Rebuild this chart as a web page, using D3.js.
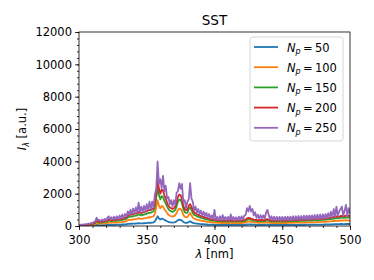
<!DOCTYPE html>
<html>
<head>
<meta charset="utf-8">
<script src="https://cdn.jsdelivr.net/npm/d3@7"></script>
<style>
  body { margin: 0; background: #fff; }
  text { font-family: "DejaVu Sans", sans-serif; fill: #000; }
</style>
</head>
<body>
<script>
// Chart size (same as the reference picture)
const w = 374;
const h = 280;

// Plot area edges
const margin = { left: 79, right: 24, top: 32, bottom: 54 };

// Wavelength grid, 1 nm steps from 300 to 500
const wavelengths = d3.range(300, 501, 1);

// Tick labels
const xTicks = [300, 350, 400, 450, 500];
const yTicks = [0, 2000, 4000, 6000, 8000, 10000, 12000];

// Series names (number of particles)
const particleCounts = [50, 100, 150, 200, 250];

// Intensities, one value per nm
const np50 = [
  5, 8, 9, 11, 12, 14, 15, 18, 20, 24,
  26, 34, 46, 76, 56, 52, 50, 54, 56, 60,
  62, 68, 84, 76, 72, 74, 78, 76, 80, 82,
  84, 88, 92, 94, 98, 108, 128, 136, 144, 140,
  148, 152, 156, 160, 176, 164, 160, 164, 170, 176,
  184, 192, 200, 196, 210, 220, 290, 430, 600, 470,
  400, 450, 440, 380, 340, 290, 250, 230, 220, 210,
  220, 240, 290, 360, 390, 380, 330, 250, 210, 196,
  200, 250, 290, 240, 190, 166, 156, 144, 138, 128,
  122, 116, 112, 104, 100, 94, 90, 86, 80, 76,
  84, 74, 72, 70, 72, 68, 70, 66, 66, 64,
  66, 66, 76, 66, 64, 64, 64, 66, 66, 68,
  68, 70, 72, 80, 94, 100, 98, 92, 86, 80,
  76, 74, 72, 72, 76, 74, 72, 72, 80, 86,
  78, 70, 68, 68, 66, 66, 66, 66, 66, 66,
  68, 68, 68, 68, 70, 70, 70, 72, 72, 72,
  74, 74, 74, 76, 76, 76, 78, 78, 80, 80,
  80, 82, 82, 84, 84, 86, 86, 88, 88, 90,
  90, 92, 94, 96, 98, 102, 104, 106, 114, 112,
  120, 116, 114, 124, 124, 120, 122, 130, 124, 128,
  124
];

const np100 = [
  15, 20, 25, 30, 33, 38, 42, 50, 55, 65,
  72, 95, 125, 210, 155, 145, 140, 150, 155, 165,
  170, 190, 230, 210, 200, 205, 215, 210, 220, 225,
  230, 240, 255, 260, 270, 300, 350, 375, 395, 385,
  410, 420, 430, 440, 485, 450, 440, 450, 470, 485,
  505, 530, 550, 540, 580, 600, 770, 1150, 1600, 1260,
  1100, 1240, 1200, 1050, 935, 800, 690, 635, 605, 580,
  605, 660, 800, 990, 1070, 1050, 910, 690, 580, 540,
  550, 690, 800, 660, 520, 455, 430, 395, 380, 350,
  335, 320, 310, 285, 275, 260, 250, 235, 220, 210,
  230, 205, 200, 190, 200, 185, 195, 180, 180, 175,
  180, 180, 210, 180, 175, 175, 175, 180, 180, 185,
  185, 190, 200, 220, 260, 275, 270, 255, 235, 220,
  210, 205, 200, 200, 210, 205, 200, 200, 220, 235,
  215, 190, 185, 185, 180, 180, 180, 180, 180, 180,
  185, 185, 185, 185, 190, 190, 190, 200, 200, 200,
  205, 205, 205, 210, 210, 210, 215, 215, 220, 220,
  220, 225, 225, 230, 230, 235, 235, 240, 240, 250,
  250, 255, 260, 265, 270, 280, 285, 290, 315, 310,
  330, 320, 315, 340, 340, 330, 335, 360, 340, 350,
  340
];

const np150 = [
  25, 30, 38, 45, 50, 58, 62, 75, 85, 100,
  110, 140, 190, 320, 235, 215, 210, 225, 235, 250,
  260, 285, 350, 315, 300, 310, 325, 315, 335, 340,
  350, 365, 380, 390, 410, 450, 530, 565, 600, 580,
  615, 630, 650, 665, 730, 680, 665, 680, 705, 730,
  765, 800, 830, 815, 870, 910, 1160, 1750, 2400, 1900,
  1650, 1850, 1800, 1550, 1400, 1200, 1040, 955, 910, 870,
  910, 1000, 1200, 1500, 1650, 1620, 1400, 1050, 870, 810,
  830, 1050, 1150, 1000, 790, 690, 650, 600, 570, 530,
  505, 480, 465, 430, 415, 390, 375, 355, 330, 315,
  350, 305, 300, 290, 300, 280, 290, 275, 275, 265,
  275, 275, 315, 275, 265, 265, 265, 275, 275, 280,
  280, 290, 300, 330, 390, 415, 405, 380, 355, 330,
  315, 305, 300, 300, 315, 305, 300, 300, 330, 355,
  325, 290, 280, 280, 275, 275, 275, 275, 275, 275,
  280, 280, 280, 280, 290, 290, 290, 300, 300, 300,
  305, 305, 305, 315, 315, 315, 325, 325, 330, 330,
  330, 340, 340, 350, 350, 355, 355, 365, 365, 375,
  375, 380, 390, 400, 405, 420, 430, 440, 470, 465,
  500, 480, 470, 515, 515, 500, 505, 540, 515, 530,
  515
];

const np200 = [
  30, 40, 45, 55, 60, 70, 75, 90, 100, 120,
  130, 170, 230, 380, 280, 260, 250, 270, 280, 300,
  310, 340, 420, 380, 360, 370, 390, 380, 400, 410,
  420, 440, 460, 470, 490, 540, 640, 680, 720, 700,
  740, 760, 780, 800, 880, 820, 800, 820, 850, 880,
  920, 960, 1000, 980, 1050, 1100, 1400, 2100, 2900, 2300,
  2000, 2250, 2200, 1900, 1700, 1450, 1250, 1150, 1100, 1050,
  1100, 1200, 1450, 1800, 1950, 1900, 1650, 1250, 1050, 980,
  1000, 1250, 1350, 1200, 950, 830, 780, 720, 690, 640,
  610, 580, 560, 520, 500, 470, 450, 430, 400, 380,
  420, 370, 360, 350, 360, 340, 350, 330, 330, 320,
  330, 330, 380, 330, 320, 320, 320, 330, 330, 340,
  340, 350, 360, 400, 470, 500, 490, 460, 430, 400,
  380, 370, 360, 360, 380, 370, 360, 360, 400, 430,
  390, 350, 340, 340, 330, 330, 330, 330, 330, 330,
  340, 340, 340, 340, 350, 350, 350, 360, 360, 360,
  370, 370, 370, 380, 380, 380, 390, 390, 400, 400,
  400, 410, 410, 420, 420, 430, 430, 440, 440, 450,
  450, 460, 470, 480, 490, 510, 520, 530, 570, 560,
  600, 580, 570, 620, 620, 600, 610, 650, 620, 640,
  620
];

const np250 = [
  50, 80, 70, 100, 90, 120, 110, 150, 140, 190,
  170, 260, 280, 520, 340, 380, 290, 400, 320, 440,
  330, 520, 600, 420, 540, 400, 580, 420, 600, 440,
  650, 470, 700, 500, 740, 600, 900, 700, 1000, 760,
  1080, 800, 1150, 850, 1450, 880, 1200, 860, 1250, 920,
  1350, 1000, 1500, 1050, 1500, 1150, 1950, 2300, 4000, 2600,
  2900, 2350, 3100, 2150, 2500, 1700, 1800, 1350, 1600, 1200,
  1600, 1300, 2050, 2150, 2650, 2300, 2600, 1500, 1600, 1100,
  1500, 1650, 2650, 1700, 1500, 950, 1200, 830, 1050, 740,
  950, 640, 880, 600, 820, 540, 740, 470, 660, 420,
  1000, 400, 560, 380, 600, 370, 680, 380, 560, 350,
  560, 390, 720, 380, 560, 350, 540, 360, 580, 370,
  600, 400, 640, 700, 1100, 900, 1250, 900, 1050, 650,
  850, 500, 700, 450, 680, 480, 660, 430, 820, 1000,
  700, 400, 600, 380, 580, 370, 560, 360, 560, 350,
  560, 360, 560, 350, 580, 360, 580, 370, 600, 370,
  600, 380, 620, 390, 620, 390, 640, 400, 640, 400,
  660, 410, 660, 420, 680, 420, 700, 440, 700, 440,
  720, 460, 740, 480, 800, 560, 880, 560, 1050, 600,
  1200, 640, 900, 1050, 1200, 620, 950, 1300, 650, 1100,
  750
];

const seriesValues = [np50, np100, np150, np200, np250];

// matplotlib tab10 colours
const colors = ["#1f77b4", "#ff7f0e", "#2ca02c", "#d62728", "#9467bd"];

const svg = d3.select("body").append("svg").attr("width", w).attr("height", h);

const xScale = d3.scaleLinear()
  .domain([300, 500])
  .range([margin.left, w - margin.right]);

const yScale = d3.scaleLinear()
  .domain([0, 12000])
  .range([h - margin.bottom, margin.top]);

// clip so lines stay inside the axes
svg.append("clipPath").attr("id", "plotClip")
  .append("rect")
  .attr("x", margin.left).attr("y", margin.top)
  .attr("width", w - margin.left - margin.right)
  .attr("height", h - margin.top - margin.bottom);

const line = d3.line()
  .x((d, i) => xScale(wavelengths[i]))
  .y(d => yScale(d));

svg.append("g")
  .attr("clip-path", "url(#plotClip)")
  .selectAll("path")
  .data(seriesValues)
  .enter()
  .append("path")
  .attr("d", d => line(d))
  .attr("fill", "none")
  .attr("stroke", (d, i) => colors[i])
  .attr("stroke-width", 1.8)
  .attr("stroke-linejoin", "round");

// Axes: major ticks with labels, minor ticks without
const bottom = h - margin.bottom;

svg.append("g")
  .attr("transform", "translate(0," + bottom + ")")
  .call(d3.axisBottom(xScale).tickValues(d3.range(300, 501, 10)).tickSize(2).tickFormat(""))
  .call(g => g.select(".domain").remove());

svg.append("g")
  .attr("id", "xAxis")
  .attr("transform", "translate(0," + bottom + ")")
  .call(d3.axisBottom(xScale).tickValues(xTicks).tickSize(4).tickPadding(6))
  .call(g => g.select(".domain").remove());

svg.append("g")
  .attr("transform", "translate(" + margin.left + ",0)")
  .call(d3.axisLeft(yScale).tickValues(d3.range(0, 12001, 400)).tickSize(2).tickFormat(""))
  .call(g => g.select(".domain").remove());

svg.append("g")
  .attr("id", "yAxis")
  .attr("transform", "translate(" + margin.left + ",0)")
  .call(d3.axisLeft(yScale).tickValues(yTicks).tickSize(4).tickPadding(3).tickFormat(d3.format("d")))
  .call(g => g.select(".domain").remove());

svg.selectAll(".tick line").attr("stroke", "#000").attr("stroke-width", 0.8);
svg.selectAll("#xAxis text, #yAxis text")
  .style("font-family", "DejaVu Sans")
  .style("font-size", "11.5px");

// Frame round the plot
svg.append("rect")
  .attr("x", margin.left).attr("y", margin.top)
  .attr("width", w - margin.left - margin.right)
  .attr("height", h - margin.top - margin.bottom)
  .attr("fill", "none")
  .attr("stroke", "#000")
  .attr("stroke-width", 0.8);

// Title and axis labels
svg.append("text")
  .attr("x", (margin.left + w - margin.right) / 2)
  .attr("y", 25)
  .attr("text-anchor", "middle")
  .style("font-size", "13.5px")
  .text("SST");

const xLabel = svg.append("text")
  .attr("x", (margin.left + w - margin.right) / 2)
  .attr("y", 258)
  .attr("text-anchor", "middle")
  .style("font-size", "11.5px");
xLabel.append("tspan").style("font-style", "italic").text("λ");
xLabel.append("tspan").text(" [nm]");

const yLabel = svg.append("text")
  .attr("transform", "translate(26," + ((margin.top + bottom) / 2) + ") rotate(-90)")
  .attr("text-anchor", "middle")
  .style("font-size", "11.5px");
yLabel.append("tspan").style("font-style", "italic").text("I");
yLabel.append("tspan").style("font-style", "italic").style("font-size", "8px").attr("dy", 3).text("λ");
yLabel.append("tspan").attr("dy", -3).text(" [a.u.]");

// Legend
const legend = svg.append("g").attr("transform", "translate(250,37)");

legend.append("rect")
  .attr("width", 93).attr("height", 104)
  .attr("rx", 2.5)
  .attr("fill", "#fff").attr("fill-opacity", 0.8)
  .attr("stroke", "#ccc").attr("stroke-width", 0.8);

const entries = legend.selectAll("g.entry")
  .data(particleCounts)
  .enter()
  .append("g")
  .attr("class", "entry")
  .attr("transform", (d, i) => "translate(0," + (10 + i * 20.2) + ")");

entries.append("line")
  .attr("x1", 4).attr("x2", 28)
  .attr("y1", 0).attr("y2", 0)
  .attr("stroke", (d, i) => colors[i])
  .attr("stroke-width", 1.8);

const labels = entries.append("text")
  .attr("x", 37).attr("y", 4.5)
  .style("font-size", "11.5px");
labels.append("tspan").style("font-style", "italic").text("N");
labels.append("tspan").style("font-style", "italic").style("font-size", "8px").attr("dy", 2.5).text("p");
labels.append("tspan").attr("dy", -2.5).text(d => "\u2009=\u2009" + d);
</script>
</body>
</html>
